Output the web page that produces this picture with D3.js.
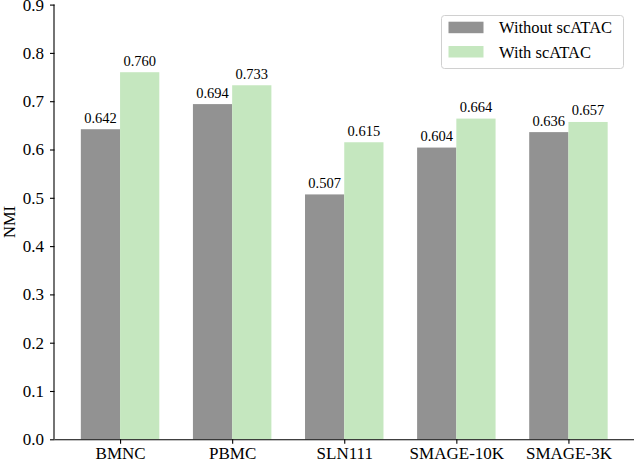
<!DOCTYPE html>
<html><head><meta charset="utf-8">
<script src="https://cdn.jsdelivr.net/npm/d3@7"></script>
<style>body{margin:0;background:#fff}svg{display:block}text{font-family:"Liberation Serif","Times New Roman",serif;fill:#000}</style>
</head><body><svg id="c" width="634" height="462"></svg>
<script>
const categories = ["BMNC","PBMC","SLN111","SMAGE-10K","SMAGE-3K"];
const withoutATAC = [0.642,0.694,0.507,0.604,0.636];
const withATAC = [0.760,0.733,0.615,0.664,0.657];
const seriesNames = ["Without scATAC","With scATAC"];
const seriesColors = ["#929292","#c5e7bf"];
const yTicks = [0,0.1,0.2,0.3,0.4,0.5,0.6,0.7,0.8,0.9];

const svg = d3.select("#c");
const L = 54.5, R = 634, T = 4.6, B = 439.3;
const bw = 0.35;
const x = d3.scaleLinear().domain([-0.585, categories.length - 1 + 0.585]).range([L, R]);
const y = d3.scaleLinear().domain([0, 0.9]).range([B, T]);
const series = [withoutATAC, withATAC];

series.forEach((vals, s) => {
  const off = s === 0 ? -bw : 0;
  svg.append("g").selectAll("rect").data(vals).join("rect")
    .attr("x", (d,i) => x(i + off))
    .attr("width", x(bw) - x(0))
    .attr("y", d => y(d))
    .attr("height", d => B - y(d))
    .attr("fill", seriesColors[s]);
  svg.append("g").selectAll("text").data(vals).join("text")
    .attr("x", (d,i) => x(i + off + bw/2))
    .attr("y", d => y(d) - 6.5)
    .attr("text-anchor","middle")
    .attr("font-size", 14.5)
    .text(d => d.toFixed(3));
});

const yAxis = svg.append("g").attr("transform", `translate(${L},0)`)
  .call(d3.axisLeft(y).tickValues(yTicks).tickFormat(d3.format(".1f")).tickSize(4.5).tickPadding(6));
yAxis.selectAll("text").attr("font-size", 17).attr("font-family", "Liberation Serif");
yAxis.select(".domain").attr("d", `M-0.5,${B}V${T}`);

const xAxis = svg.append("g").attr("transform", `translate(0,${B})`)
  .call(d3.axisBottom(x).tickValues(d3.range(categories.length)).tickFormat(i => categories[i]).tickSize(4.5).tickPadding(3.5));
xAxis.selectAll("text").attr("font-size", 17).attr("font-family", "Liberation Serif");
xAxis.select(".domain").attr("d", `M${L},0.5H${R}`);
svg.selectAll(".domain").attr("stroke","#000").attr("stroke-width",1.1);
svg.selectAll(".tick line").attr("stroke","#000").attr("stroke-width",1.1);

svg.append("text").attr("transform", `translate(15,${(T+B)/2}) rotate(-90)`)
  .attr("text-anchor","middle").attr("font-size", 16.5).text("NMI");

const lg = svg.append("g");
lg.append("rect").attr("x",441.5).attr("y",15.5).attr("width",182).attr("height",53)
  .attr("rx",3).attr("fill","#fff").attr("fill-opacity",0.8).attr("stroke","#d0d0d0");
seriesNames.forEach((n,i) => {
  lg.append("rect").attr("x",448.5).attr("y",21.7 + i*24.3).attr("width",35).attr("height",11.5).attr("fill",seriesColors[i]);
  lg.append("text").attr("x",499).attr("y",27.5 + i*24.3).attr("dy","0.35em").attr("font-size",16.5).text(n);
});
</script></body></html>
